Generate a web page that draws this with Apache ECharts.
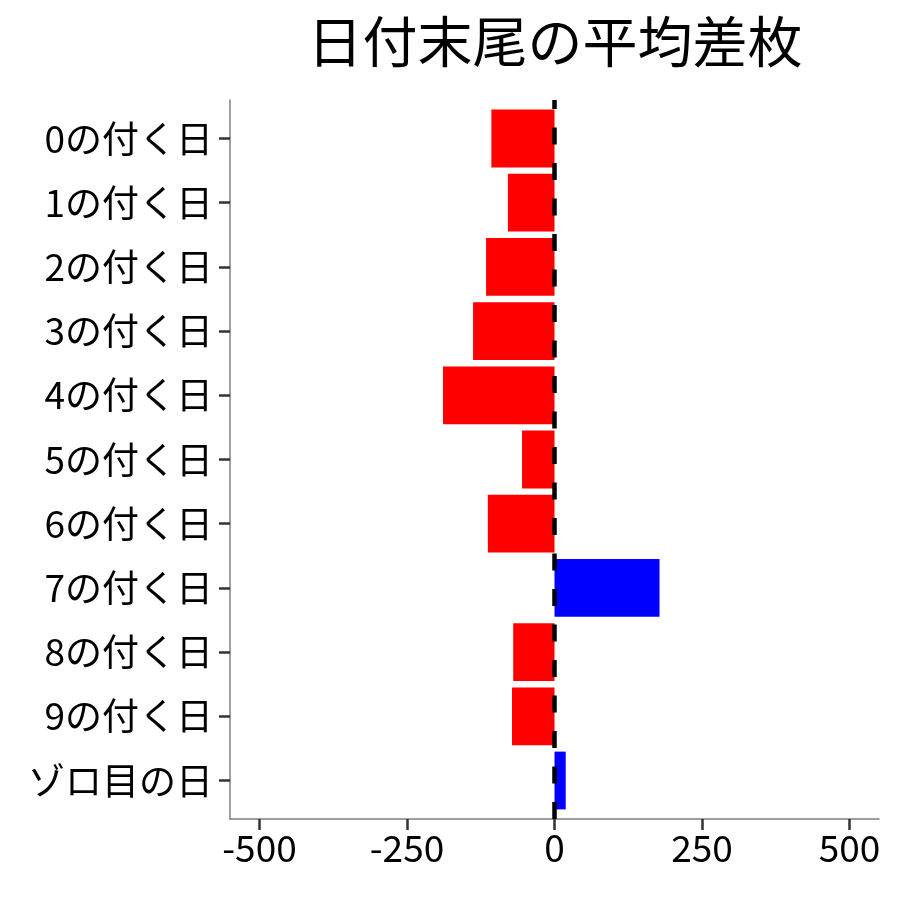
<!DOCTYPE html>
<html>
<head>
<meta charset="utf-8">
<script src="https://cdn.jsdelivr.net/npm/echarts@6/dist/echarts.min.js"></script>
<style>
  html, body { margin: 0; padding: 0; background: #fff; }
  #chart { width: 900px; height: 900px; }
</style>
</head>
<body>
<div id="chart"></div>
<script>
const categories = ['0の付く日', '1の付く日', '2の付く日', '3の付く日', '4の付く日',
                    '5の付く日', '6の付く日', '7の付く日', '8の付く日', '9の付く日', 'ゾロ目の日'];
const values = [-107, -79, -116, -138, -189, -55, -113, 178, -70, -72, 19];
const xTicks = [-500, -250, 0, 250, 500];

const myChart = echarts.init(document.getElementById('chart'));
const font = '"Noto Sans CJK JP", "Noto Sans", sans-serif';

// panel 230..879 x 100..819; categories padded 0.6 band each side (ggplot style)
const option = {
  animation: false,
  title: {
    text: '日付末尾の平均差枚',
    left: 550,
    textAlign: 'center',
    top: 9,
    textStyle: { fontFamily: font, fontSize: 55, fontWeight: 'normal', color: '#000' }
  },
  grid: [
    { left: 230, right: 21, top: 106.4, bottom: 87.4 },
    { left: 230, right: 21, top: 100, bottom: 81 }
  ],
  xAxis: [
    {
      gridIndex: 0, type: 'value', min: -550, max: 550,
      show: false
    },
    {
      gridIndex: 1, type: 'value', min: -550, max: 550,
      splitLine: { show: false },
      axisLine: { show: true, onZero: false, lineStyle: { color: '#808080', width: 1.5 } },
      axisTick: { show: true, length: 11, lineStyle: { color: '#333', width: 2.5 },
                  customValues: xTicks },
      axisLabel: { fontFamily: font, fontSize: 37, color: '#000', margin: 10,
                   customValues: xTicks }
    }
  ],
  yAxis: [
    {
      gridIndex: 0, type: 'category', data: categories, inverse: true,
      axisLine: { show: false, onZero: false },
      axisTick: { show: true, alignWithLabel: true, length: 11, lineStyle: { color: '#333', width: 2.5 } },
      axisLabel: { fontFamily: font, fontSize: 37, color: '#000', margin: 17 }
    },
    {
      gridIndex: 1, type: 'value', min: 0, max: 1,
      splitLine: { show: false },
      axisLine: { show: true, onZero: false, lineStyle: { color: '#808080', width: 1.5 } },
      axisTick: { show: false },
      axisLabel: { show: false }
    }
  ],
  series: [
    {
      type: 'bar',
      xAxisIndex: 0, yAxisIndex: 0,
      data: values,
      barWidth: '90%',
      itemStyle: {
        color: (p) => (p.value < 0 ? '#FF0000' : '#0000FF')
      },
      z: 2
    },
    {
      type: 'line',
      xAxisIndex: 1, yAxisIndex: 1,
      data: [],
      markLine: {
        silent: true,
        symbol: 'none',
        label: { show: false },
        lineStyle: { color: '#000', width: 4.5, type: [17, 18.5], opacity: 1 },
        data: [{ xAxis: 0 }]
      },
      z: 3
    }
  ]
};

option && myChart.setOption(option);
</script>
</body>
</html>
